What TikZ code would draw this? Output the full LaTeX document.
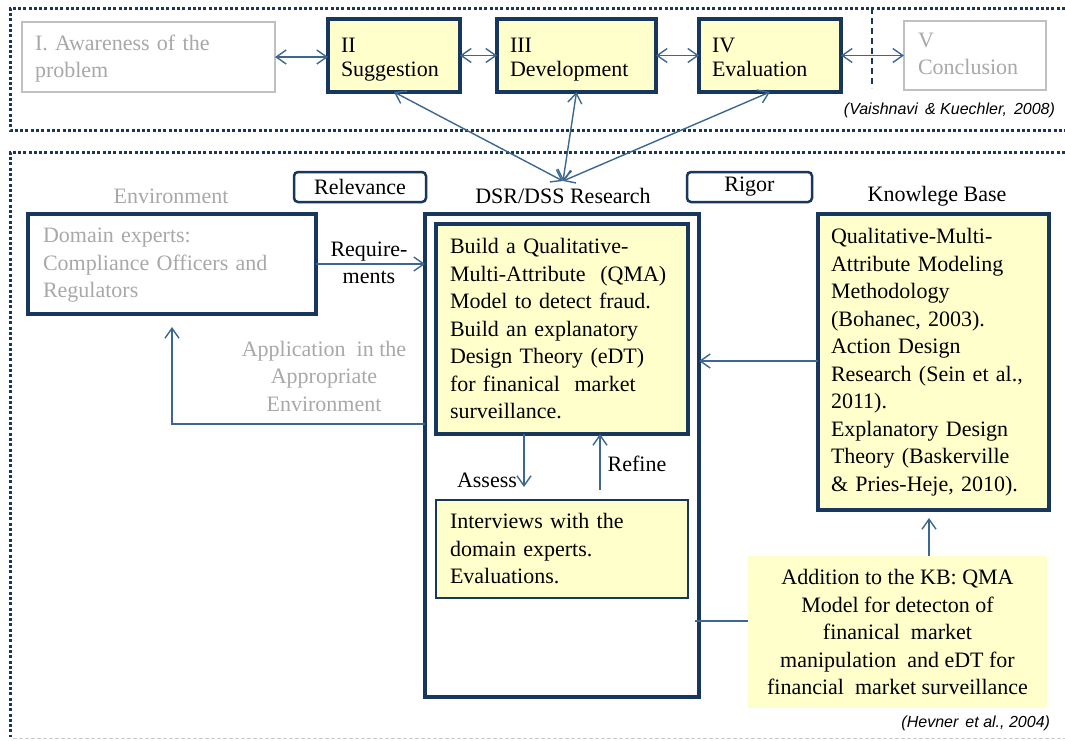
\documentclass[tikz,border=0pt]{standalone}
\usepackage{fontspec}
\setmainfont{Liberation Serif}
\newfontfamily\citefont{Liberation Sans}
\usetikzlibrary{arrows.meta,calc}
\definecolor{navy}{HTML}{17375E}
\definecolor{steel}{HTML}{3B6790}
\definecolor{paleyellow}{HTML}{FFFFCC}
\definecolor{greytext}{HTML}{A8A8A8}
\definecolor{greyline}{HTML}{C0C0C0}
\definecolor{framegrey}{HTML}{C8CDD3}

\begin{document}
\begin{tikzpicture}[x=1pt,y=-1pt,
  every node/.style={font=\fontsize{22}{27.5}\selectfont, inner sep=0pt, outer sep=0pt},
  frame/.style={navy, line width=3pt, dash pattern=on 3pt off 2.3pt},
  barb/.tip={Straight Barb[length=10pt,width=14pt]},
  arr/.style={draw=steel, line width=1.4pt, -barb},
  dbl/.style={draw=steel, line width=1.4pt, barb-barb},
  conn/.style={draw=steel, line width=2pt},
  drop/.style={execute at begin node={\rule{0pt}{#1pt}}, execute at end node={\strut}},
  phase/.style={draw=navy, line width=4pt, fill=paleyellow, anchor=north west,
    align=left, inner xsep=13pt, font=\fontsize{22}{24}\selectfont, drop=24.2},
  faded/.style={draw=greyline, line width=1.5pt, fill=white, anchor=north west,
    align=left, inner xsep=13pt, text=greytext, font=\fontsize{22}{27}\selectfont},
  boldbox/.style={draw=navy, line width=4pt, anchor=north west, align=left},
  tag/.style={draw=navy, line width=2.5pt, rounded corners=4pt, minimum height=30pt},
  cite/.style={font=\citefont\itshape\fontsize{16}{18}\selectfont}
]
\useasboundingbox (0,0) rectangle (1065,740);

% dotted frames of the two panels
\draw[frame] (1065,8) -- (10,8) -- (10,130) -- (1065,130);
\draw[frame] (1065,152) -- (10,152) -- (10,737);
\draw[framegrey, line width=1pt, dash pattern=on 4pt off 2pt] (13,738) -- (1065,738);
\draw[navy, line width=1.5pt, dash pattern=on 6pt off 4pt] (872,8) -- (872,88);

% design science process steps
\node[faded, drop=23, minimum width=253pt, minimum height=70pt, text width=227pt] (aware) at (22,22)
  {I. Awareness of the\\problem};
\node[phase, minimum width=132pt, minimum height=73pt, text width=106pt] (sugg) at (328,19)
  {II\\Suggestion};
\node[phase, minimum width=159pt, minimum height=73pt, text width=133pt] (devel) at (497,19)
  {III\\Development};
\node[phase, minimum width=142pt, minimum height=73pt, text width=116pt] (evalu) at (699,19)
  {IV\\Evaluation};
\node[faded, drop=20, minimum width=142pt, minimum height=69pt, text width=114pt, inner xsep=14pt] (concl) at (904,21)
  {V\\Conclusion};
\node[cite, anchor=east] (cite1) at (1055,110) {(Vaishnavi \,\& Kuechler, \,2008)};

\draw[dbl] (aware.east) -- (sugg.west |- aware.east);
\draw[dbl] (sugg.east) -- (devel.west);
\draw[dbl] (devel.east) -- (evalu.west);
\draw[dbl] (evalu.east) -- (concl.west |- evalu.east);

% research framework
\node[text=greytext] (envlabel) at (171,196) {Environment};
\node[tag, minimum width=132pt] (relev) at (360,187) {Relevance};
\node (dsrlabel) at (563,196) {DSR/DSS Research};
\node[tag, minimum width=125pt] (rigor) at (749.5,187) {Rigor};
\node (kblabel) at (937,196) {Knowlege Base};

\coordinate (hub) at (563,181);
\draw[dbl] (hub) -- (sugg.south);
\draw[dbl] (hub) -- (devel.south);
\draw[dbl] (hub) -- (evalu.south);

\node[boldbox, drop=21, minimum width=288pt, minimum height=100pt, text width=258pt, inner xsep=15pt,
  text=greytext] (domain) at (28,214)
  {Domain experts:\\Compliance Officers and\\Regulators};

\node[boldbox, fill=white, minimum width=274pt, minimum height=483pt] (dsrbox) at (425,214) {};
\node[boldbox, fill=paleyellow, minimum width=252pt, minimum height=210pt, text width=224pt,
  inner xsep=14pt] (artifact) at (436,224)
  {Build a Qualitative-\\Multi-Attribute \ (QMA)\\Model to detect fraud.\\Build an explanatory\\Design Theory (eDT)\\for finanical \ market\\surveillance.};
\node[draw=navy, line width=1.3pt, fill=paleyellow, anchor=north west, align=left,
  minimum width=252pt, minimum height=98pt, text width=224pt, inner xsep=14pt] (interv) at (436,500)
  {Interviews with the\\domain experts.\\Evaluations.};

\node[boldbox, fill=paleyellow, minimum width=231pt, minimum height=296pt, text width=205pt,
  inner xsep=13pt] (kb) at (818,214)
  {Qualitative-Multi-\\Attribute Modeling\\Methodology\\(Bohanec, 2003).\\Action Design\\Research (Sein et al.,\\2011).\\Explanatory Design\\Theory (Baskerville\\\& Pries-Heje, 2010).};

\node[fill=paleyellow, anchor=north west, align=center, minimum width=299pt, minimum height=152pt]
  (addkb) at (748,556)
  {Addition to the KB: QMA\\Model for detecton of\\finanical \ market\\manipulation \ and eDT for\\financial \ market surveillance};
\node[cite, anchor=east] (cite2) at (1050,723) {(Hevner \,et al., 2004)};

% relevance cycle
\draw[arr] (domain.east) -- (domain.east -| dsrbox.west);
\node[align=center] (reqlabel) at (369,263) {Require-\\ments};
\coordinate (appturn) at (172,424);
\coordinate (apptip) at (172,327);
\draw[arr] (appturn -| dsrbox.west) -- (appturn) -- (apptip);
\node[align=center, text=greytext] (applabel) at (324,376)
  {Application \ in the\\Appropriate\\Environment};

% design cycle
\coordinate (assesstip) at (524,487);
\draw[arr] (assesstip |- artifact.south) -- (assesstip);
\node (assesslabel) at (487,480) {Assess};
\coordinate (refinefoot) at (600,490);
\draw[arr] (refinefoot) -- (refinefoot |- artifact.south);
\node (refinelabel) at (637,464) {Refine};

% rigor cycle
\coordinate (kbarrow) at (760,361);
\draw[arr] (kbarrow -| kb.west) -- (kbarrow -| dsrbox.east);
\coordinate (addline) at (720,621);
\draw[conn] ($(addline -| dsrbox.east)+(-4,0)$) -- (addline -| addkb.west);
\coordinate (kbtip) at (929,518);
\draw[arr] (kbtip |- addkb.north) -- (kbtip);
\end{tikzpicture}
\end{document}
